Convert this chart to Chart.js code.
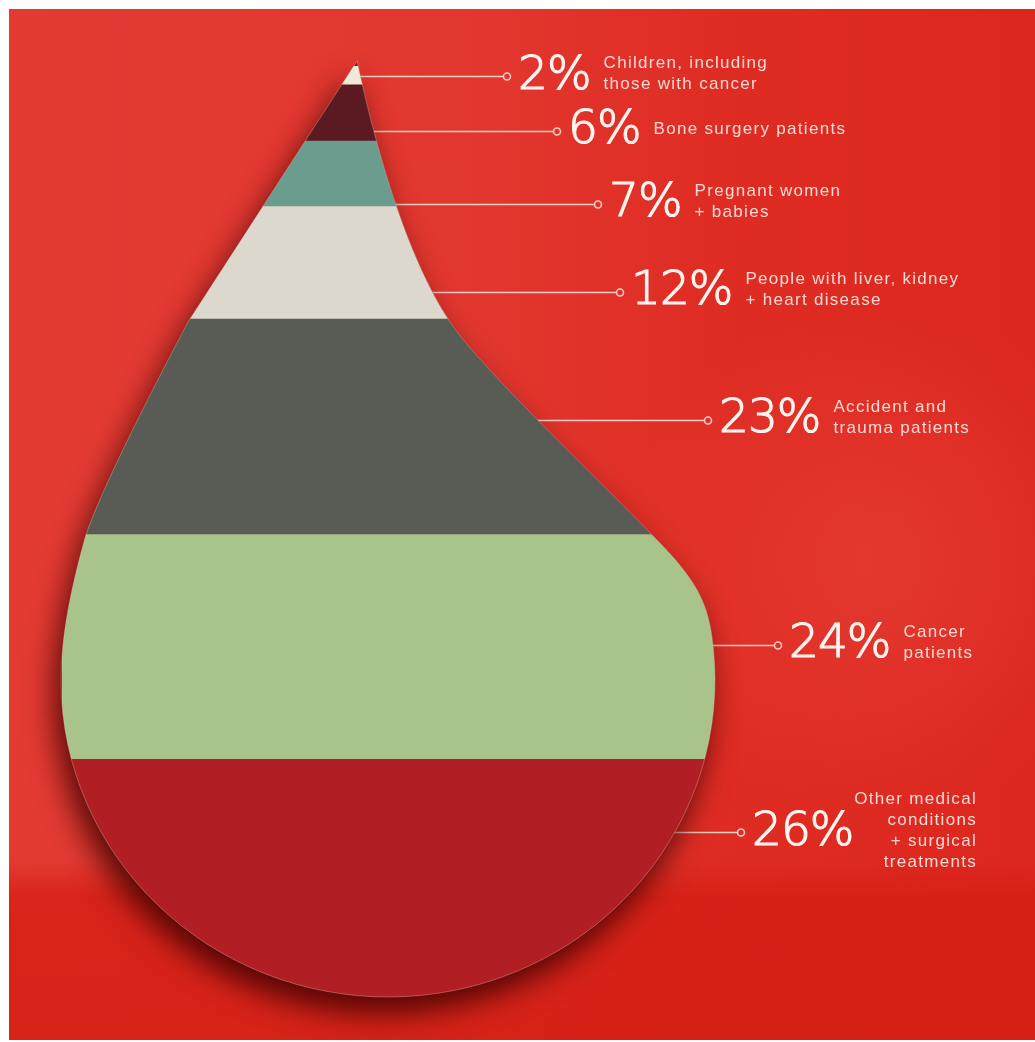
<!doctype html>
<html lang="en">
	<head>
		<meta charset="utf-8">
		<title>Who uses donated blood</title>
		<style>
			html, body {
			margin: 0;
			padding: 0;
			background: #ffffff;
			overflow: hidden;
			}
			.chart-container {
			position: relative;
			width: 1035px;
			height: 1042px;
			}
		</style>
		<script src="https://cdn.jsdelivr.net/npm/chart.js@4.4.0/dist/chart.umd.min.js"></script>
	</head>
	<body>
		<div class="chart-container">
			<canvas id="dropChart"></canvas>
		</div>
		<script>
			// Shares of donated blood, listed from the tip of the drop down to the bottom
			const groups = [
				['Children, including', 'those with cancer'],
				['Bone surgery patients'],
				['Pregnant women', '+ babies'],
				['People with liver, kidney', '+ heart disease'],
				['Accident and', 'trauma patients'],
				['Cancer', 'patients'],
				['Other medical', 'conditions', '+ surgical', 'treatments']
			];
			const shares = [2, 6, 7, 12, 23, 24, 26];
			const bandColours = ['#efe9da', '#5b1a22', '#6b9d8f', '#dcd8ce', '#585c55', '#a9c48b', '#b11e23'];

			// Label layout: where the leader line sits inside its band (0 = bottom, 1 = top) and where its dot is
			const leaderPos = [0.45, 0.18, 0.04, 0.24, 0.53, 0.51, 0.7];
			const dotX = [507, 557, 598, 620, 708, 778, 741];

			// Drop outline, drawn in a 653 x 937 frame that is stretched over the chart area
			function tracePath(ctx, area) {
				var sx = (area.right - area.left) / 653;
				var sy = (area.bottom - area.top) / 937;
				var X = x => area.left + (x - 62) * sx;
				var Y = y => area.top + (y - 66) * sy;
				var deg = Math.PI / 180;
				ctx.beginPath();
				ctx.moveTo(X(357), Y(61));
				// right flank: steep near the tip, then the S-bend into the bulb
				ctx.bezierCurveTo(X(372), Y(130), X(402), Y(250), X(450), Y(322));
				ctx.bezierCurveTo(X(482), Y(370), X(610), Y(490), X(655), Y(538));
				ctx.bezierCurveTo(X(700), Y(583), X(709), Y(607), X(713.2), Y(646.9));
				// round bottom
				ctx.ellipse(X(388), Y(680), 327 * sx, 317 * sy, 0, -6 * deg, 186 * deg, false);
				// left flank back up to the tip
				ctx.bezierCurveTo(X(66), Y(612), X(76), Y(570), X(85), Y(538));
				ctx.bezierCurveTo(X(100), Y(490), X(160), Y(375), X(188), Y(322));
				ctx.lineTo(X(357), Y(61));
				ctx.closePath();
			}

			// Red backdrop behind everything
			const backdrop = {
				id: 'backdrop',
				beforeDraw(chart) {
					var ctx = chart.ctx;
					ctx.save();
					ctx.fillStyle = '#ffffff';
					ctx.fillRect(0, 0, chart.width, chart.height);
					var g = ctx.createLinearGradient(9, 0, chart.width, 0);
					g.addColorStop(0, '#e33b33');
					g.addColorStop(0.45, '#e2372f');
					g.addColorStop(0.7, '#df2c23');
					g.addColorStop(1, '#dc271e');
					ctx.fillStyle = g;
					ctx.fillRect(9, 9, chart.width - 9, chart.height - 11);
					// lighter patch on the right and the deeper red floor
					var r = ctx.createRadialGradient(880, 560, 20, 880, 560, 260);
					r.addColorStop(0, 'rgba(236,80,70,0.35)');
					r.addColorStop(1, 'rgba(236,80,70,0)');
					ctx.fillStyle = r;
					ctx.fillRect(9, 9, chart.width - 9, chart.height - 11);
					var f = ctx.createLinearGradient(0, 860, 0, 1040);
					f.addColorStop(0, 'rgba(214,30,20,0)');
					f.addColorStop(0.2, 'rgba(214,30,20,0.8)');
					f.addColorStop(1, 'rgba(214,32,22,0.9)');
					ctx.fillStyle = f;
					ctx.fillRect(9, 860, chart.width - 9, chart.height - 862);
					ctx.restore();
				}
			};

			function leaderY(chart, i) {
				// cumulative value below band i (bands stack from the bottom)
				var below = 0;
				for (let j = i + 1; j < shares.length; j++) below += shares[j];
				return chart.scales.y.getPixelForValue(below + shares[i] * leaderPos[i]);
			}

			// Leader lines, drop shadow and the drop-shaped clip for the bands
			const dropShape = {
				id: 'dropShape',
				beforeDatasetsDraw(chart) {
					var ctx = chart.ctx;
					var area = chart.chartArea;
					ctx.save();
					ctx.strokeStyle = '#f4cdc6';
					ctx.lineWidth = 1.6;
					for (let i = 0; i < shares.length; i++) {
						var y = Math.round(leaderY(chart, i)) + 0.5;
						// find the right-hand edge of the drop at this height
						tracePath(ctx, area);
						var x0 = area.right;
						while (x0 > area.left && !ctx.isPointInPath(x0, y)) x0--;
						ctx.beginPath();
						ctx.moveTo(x0 - 4, y);
						ctx.lineTo(dotX[i] - 3.5, y);
						ctx.stroke();
						ctx.beginPath();
						ctx.arc(dotX[i], y, 3.5, 0, Math.PI * 2);
						ctx.stroke();
					}
					ctx.restore();

					ctx.save();
					ctx.shadowColor = 'rgba(60,0,0,0.85)';
					ctx.shadowBlur = 30;
					ctx.shadowOffsetX = -6;
					ctx.shadowOffsetY = 16;
					tracePath(ctx, area);
					ctx.fillStyle = '#8a171b';
					ctx.fill();
					ctx.restore();

					ctx.save();
					tracePath(ctx, area);
					ctx.clip();
				},
				afterDatasetsDraw(chart) {
					var ctx = chart.ctx;
					ctx.restore();
					ctx.save();
					tracePath(ctx, chart.chartArea);
					ctx.strokeStyle = 'rgba(240,200,190,0.35)';
					ctx.lineWidth = 1;
					ctx.stroke();
					ctx.restore();
				}
			};

			// Big percentages and the group names
			const tags = {
				id: 'tags',
				afterDraw(chart) {
					var ctx = chart.ctx;
					ctx.save();
					ctx.textBaseline = 'middle';
					for (let i = 0; i < shares.length; i++) {
						var y = leaderY(chart, i);
						var numX = dotX[i] + 11;
						var num = shares[i] + '%';
						ctx.font = "200 47px 'DejaVu Sans'";
						ctx.letterSpacing = '-1px';
						ctx.fillStyle = '#fff4ef';
						ctx.strokeStyle = '#fff4ef';
						ctx.lineWidth = 1.2;
						ctx.textAlign = 'left';
						ctx.fillText(num, numX, y);
						ctx.strokeText(num, numX, y);
						var numW = ctx.measureText(num).width;

						var lines = groups[i];
						ctx.font = "17px 'Liberation Sans'";
						ctx.letterSpacing = '1.3px';
						ctx.fillStyle = '#f7d9d3';
						var lineH = 21;
						var top = y - 2 - (lines.length - 1) * lineH / 2;
						var last = i == shares.length - 1;
						ctx.textAlign = last ? 'right' : 'left';
						var tx = last ? 977 : numX + numW + 13;
						lines.forEach((t, k) => ctx.fillText(t, tx, top + k * lineH));
					}
					ctx.restore();
				}
			};

			// One stacked column; first dataset sits at the bottom
			const datasets = [];
			for (let i = shares.length - 1; i >= 0; i--) {
				datasets.push({
					label: groups[i].join(' '),
					data: [shares[i]],
					backgroundColor: bandColours[i],
					borderWidth: 0,
					barPercentage: 1,
					categoryPercentage: 1
				});
			}

			new Chart(document.getElementById('dropChart'), {
				type: 'bar',
				data: {
					labels: ['Blood use'],
					datasets: datasets
				},
				options: {
					animation: false,
					responsive: true,
					maintainAspectRatio: false,
					layout: {
						padding: {left: 62, right: 320, top: 66, bottom: 39}
					},
					plugins: {
						legend: {display: false},
						tooltip: {enabled: false},
						title: {display: false}
					},
					scales: {
						x: {stacked: true, display: false},
						y: {stacked: true, display: false, min: 0, max: 100}
					}
				},
				plugins: [backdrop, dropShape, tags]
			});
		</script>
	</body>
</html>
